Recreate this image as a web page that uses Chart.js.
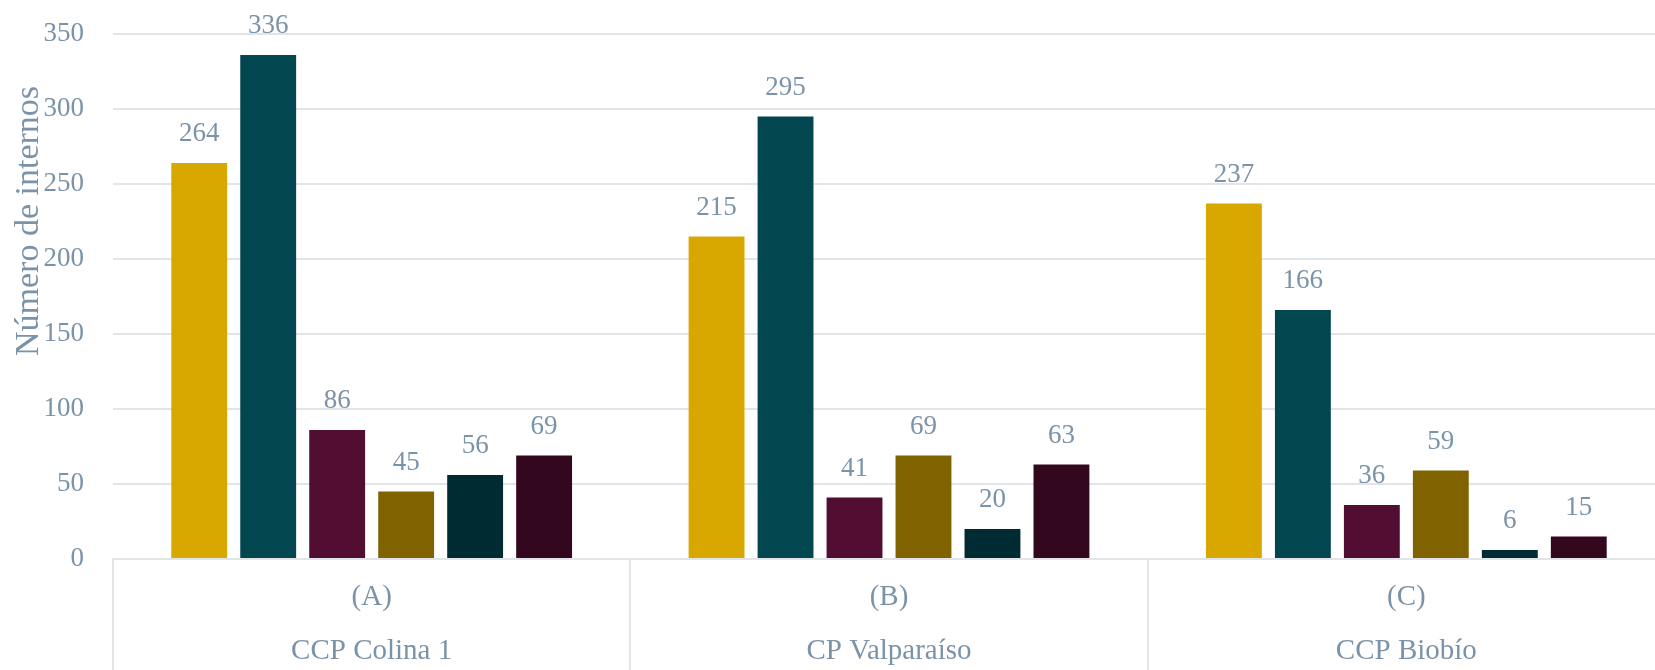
<!DOCTYPE html>
<html>
<head>
<meta charset="utf-8">
<script src="https://cdn.jsdelivr.net/npm/chart.js@4"></script>
<style>
  html, body { margin: 0; padding: 0; background: #fff; overflow: hidden; }
  canvas { display: block; }
</style>
</head>
<body>
<canvas id="myChart" width="1670" height="670"></canvas>
<script>
// datos del grafico
var letras = ['(A)', '(B)', '(C)'];
var centros = ['CCP Colina 1', 'CP Valparaíso', 'CCP Biobío'];
var serie1 = [264, 215, 237];
var serie2 = [336, 295, 166];
var serie3 = [86, 41, 36];
var serie4 = [45, 69, 59];
var serie5 = [56, 20, 6];
var serie6 = [69, 63, 15];
var yTicks = [0, 50, 100, 150, 200, 250, 300, 350];
var colores = ['#D8A800', '#02474F', '#510D32', '#806300', '#012B32', '#33081E'];

var textColor = '#7B93A8';
var gridColor = '#E1E5EA';
var fuente = 'Liberation Serif';

var labels = letras.map(function (l, i) { return [l, centros[i]]; });
var series = [serie1, serie2, serie3, serie4, serie5, serie6];

// etiquetas de valor sobre las barras + titulo del eje y
var etiquetas = {
  id: 'etiquetas',
  afterDatasetsDraw: function (chart) {
    var ctx = chart.ctx;
    ctx.save();
    ctx.font = '27px "' + fuente + '"';
    ctx.fillStyle = textColor;
    ctx.textAlign = 'center';
    ctx.textBaseline = 'middle';
    chart.data.datasets.forEach(function (ds, i) {
      var meta = chart.getDatasetMeta(i);
      meta.data.forEach(function (bar, j) {
        ctx.fillText(ds.data[j], bar.x, bar.y - 29);
      });
    });
    // titulo eje y
    ctx.translate(29, 221);
    ctx.rotate(-Math.PI / 2);
    ctx.font = '34px "' + fuente + '"';
    ctx.fillText('Número de internos', 0, 0);
    ctx.restore();
  }
};

var ctx = document.getElementById('myChart').getContext('2d');

var myChart = new Chart(ctx, {
  type: 'bar',
  data: {
    labels: labels,
    datasets: series.map(function (d, i) {
      return {
        label: 'Serie ' + (i + 1),
        data: d,
        backgroundColor: colores[i],
        categoryPercentage: 0.8,
        barPercentage: 0.81
      };
    })
  },
  options: {
    responsive: false,
    animation: false,
    devicePixelRatio: 1,
    layout: { padding: { top: 34, right: 5, left: 0, bottom: 0 } },
    plugins: {
      legend: { display: false },
      tooltip: { enabled: false }
    },
    scales: {
      x: {
        offset: true,
        grid: {
          offset: true,
          drawOnChartArea: false,
          drawTicks: true,
          tickLength: 111,
          color: gridColor,
          lineWidth: 2
        },
        border: { display: true, color: gridColor, width: 2 },
        ticks: {
          color: textColor,
          padding: -100,
          maxRotation: 0,
          font: { family: fuente, size: 29, lineHeight: 1.86 }
        },
        afterFit: function (scale) { scale.height = 111; }
      },
      y: {
        min: 0,
        max: 350,
        afterBuildTicks: function (scale) {
          scale.ticks = yTicks.map(function (v) { return { value: v }; });
        },
        grid: { color: gridColor, lineWidth: 2, drawTicks: false },
        border: { display: false },
        ticks: {
          color: textColor,
          padding: 29,
          font: { family: fuente, size: 27 }
        },
        afterFit: function (scale) {
          scale.width = 113;
          scale.paddingTop = 0;
          scale.paddingBottom = 0;
        }
      }
    }
  },
  plugins: [etiquetas]
});
</script>
</body>
</html>
